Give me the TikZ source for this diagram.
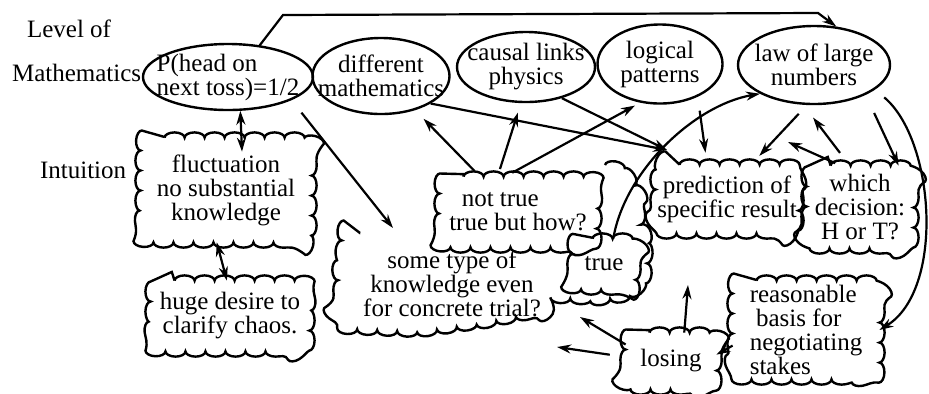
\documentclass[tikz,border=0pt]{standalone}
\usepackage{fontspec}
\setmainfont{Liberation Serif}
\usetikzlibrary{shapes.geometric,arrows.meta,decorations.pathmorphing}

\tikzset{
  lvl/.style={anchor=west},
  mathell/.style={draw, ellipse, line width=1.2pt, inner xsep=-8.5pt, inner ysep=-2pt, align=center},
  idea/.style={rectangle, inner sep=0pt, align=center},
  wavy/.style={line width=1.2pt, decorate, decoration={bumps, amplitude=2.6pt, segment length=20pt}},
  link/.style={->, line width=1.1pt},
}

% contorno ondulato attorno a un nodo "idea"
\newcommand{\idealine}[2][12pt]{%
  \draw[wavy] ([xshift=#1]#2.north west) -- ([xshift=-#1]#2.north east)
    .. controls (#2.north east) .. ([yshift=-#1]#2.north east)
    -- ([yshift=#1]#2.south east)
    .. controls (#2.south east) .. ([xshift=-#1]#2.south east)
    -- ([xshift=#1]#2.south west)
    .. controls (#2.south west) .. ([yshift=#1]#2.south west)
    -- ([yshift=-#1]#2.north west)
    .. controls (#2.north west) .. cycle;}

\begin{document}
\begin{tikzpicture}[x=0.5pt, y=-0.5pt, font=\fontsize{12.5}{12}\selectfont,
  >={Stealth[length=7pt, width=4.5pt]}]
\useasboundingbox (0,0) rectangle (929,393);

%% ---- Livelli ----
\node[lvl] (lvlA) at (20,29)  {Level of};
\node[lvl] (lvlM) at (5,73)   {Mathematics};
\node[lvl] (lvlI) at (33,170) {Intuition};

%% ---- Livello matematico (ellissi) ----
\node[mathell, align=left, minimum width=85pt, minimum height=33pt] (P) at (228,77)
  {P(head on\\ next toss)=1/2};
\node[mathell, minimum width=68.5pt, minimum height=38pt] (diff) at (381,76)
  {different\\ mathematics};
\node[mathell, minimum width=69pt, minimum height=35pt] (causal) at (526,67)
  {causal links\\ physics};
\node[mathell, minimum width=62.5pt, minimum height=39.5pt] (logic) at (660,64)
  {logical\\ patterns};
\node[mathell, minimum width=76pt, minimum height=39pt] (law) at (814,65)
  {law of large\\ numbers};

%% ---- Livello intuitivo (nuvole) ----
\node[idea, minimum width=85pt, minimum height=52pt] (fluct) at (226,190)
  {fluctuation\\ no substantial\\ knowledge};
\node[idea, minimum width=79pt, minimum height=35pt] (huge) at (230,316)
  {huge desire to\\ clarify chaos.};
\node[idea, align=left, minimum width=78pt, minimum height=35pt] (notTrue) at (518,212)
  {\ \ not true\\ true but how?};
\node[idea, minimum width=31pt, minimum height=25pt] (trueC) at (604,264) {true};
\node[idea, minimum width=71pt, minimum height=34pt] (pred) at (727,199)
  {prediction of\\ specific result};
\node[idea, minimum width=53pt, minimum height=41pt] (which) at (860,207)
  {which\\ decision:\\ H or T?};
\node[idea, align=left, minimum width=73pt, minimum height=49pt] (reason) at (806,330)
  {reasonable\\ \ basis for\\ negotiating\\ stakes};
\node[idea, minimum width=45pt, minimum height=28pt] (losing) at (671,361) {losing};

\idealine{fluct}
\idealine{huge}
\idealine{notTrue}
\idealine[10pt]{trueC}
\idealine{pred}
\idealine{which}
\idealine{reason}
\idealine{losing}

%% ---- Nuvola aperta ----
\node[align=center] (some) at (452,284) {some type of\\ knowledge even\\ for concrete trial?};
\draw[wavy] (605,165) -- (624,168) -- (638,190) -- (640,215) -- (648,240) -- (646,282)
  -- (630,296) -- (600,300) -- (562,298) -- (550,310) -- (490,322) -- (420,332)
  -- (352,329) -- (340,320) -- (338,280) -- (342,238) -- (360,233);

%% ---- Estremi liberi ----
\coordinate (topL) at (283,15);
\coordinate (topR) at (818,13);
\coordinate (someTip) at (393,228);
\coordinate (predTip) at (667,150);
\coordinate (whichTip) at (788,142);
\coordinate (upTip) at (688,285);
\coordinate (someTip1) at (580,317);
\coordinate (someTip2) at (557,347);

%% ---- Frecce ----
\draw[link] (P.45) -- (topL) -- (topR) -- (law.60);
\draw[<->, line width=1.1pt] (P.-70) -- ([xshift=8pt, yshift=-7pt]fluct.north);
\draw[<->, line width=1.1pt] (fluct.-100) -- (huge.95);
\draw[link, shorten <=8pt] (P.-20) -- (someTip);

\draw[link, shorten <=4pt, shorten >=6pt] (notTrue.137) -- (diff.-45);
\draw[link, shorten <=4pt, shorten >=5pt] (notTrue.120) -- (causal.-98);
\draw[link, shorten <=4pt, shorten >=3pt] (notTrue.110) -- (logic.-117);

\draw[link] (diff.-29) -- (predTip);
\draw[link] (causal.-41) -- (predTip);
\draw[link, shorten <=7pt, shorten >=6pt] (logic.-41) -- (pred.120);
\draw[link, shorten <=6pt, shorten >=6pt] (law.-100) -- (pred.55);
\draw[link, shorten <=8pt, shorten >=8pt] (which.104) -- (law.-105);
\draw[link, shorten <=3pt] (which.115) -- (whichTip);
\draw[link, shorten <=10pt] (law.-30) -- (which.47);
\draw[link, shorten <=6pt] (law.-22) .. controls (935,140) and (945,290) .. (reason.east);
\draw[link] (trueC.70) .. controls (625,170) and (695,105) .. (law.-152);

\draw[link] (reason.-168) -- (losing.8);
\draw[link] (losing.65) -- (upTip);
\draw[link] (losing.160) -- (someTip1);
\draw[link, shorten <=8pt] (losing.175) -- (someTip2);

\end{tikzpicture}
\end{document}
